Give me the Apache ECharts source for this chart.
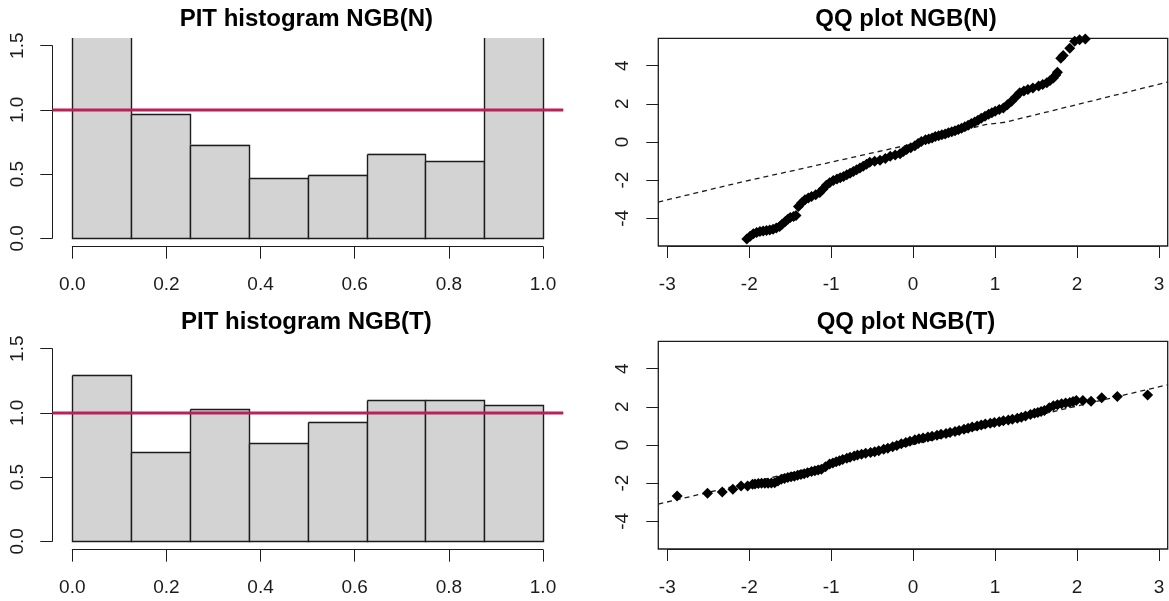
<!DOCTYPE html>
<html><head><meta charset="utf-8">
<script src="https://cdn.jsdelivr.net/npm/echarts@6/dist/echarts.min.js"></script>
<style>html,body{margin:0;padding:0;background:#fff}#c{width:1169px;height:601px}</style>
</head><body><div id="c"></div>
<script>
// ---------------- data ----------------
const titles = ['PIT histogram NGB(N)', 'QQ plot NGB(N)', 'PIT histogram NGB(T)', 'QQ plot NGB(T)'];
const pitBreaks = [0, 0.125, 0.25, 0.375, 0.5, 0.625, 0.75, 0.875, 1];
const pitDensityN = [2.02, 0.966, 0.73, 0.468, 0.496, 0.66, 0.60, 2.06];
const pitDensityT = [1.297, 0.693, 1.029, 0.766, 0.932, 1.099, 1.099, 1.060];
const uniformLevel = 1;

const qqN_x = [-2.03,-1.99,-1.95,-1.91,-1.87,-1.83,-1.79,-1.75,-1.71,-1.67,-1.63,-1.60,-1.56,-1.53,-1.50,-1.46,-1.43,
  -1.40,-1.36,-1.32,-1.28,-1.24,-1.19,-1.14,-1.10,-1.06,-1.02,-0.975,-0.93,-0.89,-0.85,-0.81,-0.77,-0.73,-0.69,-0.65,
  -0.61,-0.57,-0.53,-0.47,-0.405,-0.34,-0.28,-0.22,-0.16,-0.12,-0.08,-0.03,0.02,0.06,0.10,0.15,0.19,0.23,0.27,0.31,
  0.35,0.39,0.43,0.47,0.51,0.55,0.59,0.63,0.67,0.71,0.75,0.79,0.83,0.876,0.92,0.96,1.00,1.05,1.10,1.15,1.20,1.25,
  1.30,1.35,1.40,1.46,1.53,1.58,1.63,1.67,1.71,1.74,1.76,1.80,1.83,1.91,1.97,2.03,2.10];
const qqN_y = [-5.10,-4.95,-4.82,-4.76,-4.70,-4.67,-4.65,-4.62,-4.58,-4.52,-4.44,-4.32,-4.18,-4.06,-3.97,-3.92,-3.86,
  -3.40,-3.20,-3.04,-2.95,-2.87,-2.78,-2.66,-2.48,-2.29,-2.15,-2.03,-1.96,-1.89,-1.82,-1.74,-1.65,-1.56,-1.47,-1.38,
  -1.29,-1.18,-1.08,-1.03,-0.98,-0.88,-0.77,-0.70,-0.63,-0.52,-0.42,-0.32,-0.22,-0.10,0.01,0.09,0.14,0.19,0.26,0.31,
  0.36,0.40,0.46,0.52,0.57,0.63,0.70,0.77,0.86,0.94,1.03,1.12,1.22,1.33,1.43,1.51,1.59,1.68,1.76,1.93,2.11,2.33,
  2.55,2.65,2.72,2.80,2.90,2.98,3.07,3.20,3.33,3.48,3.63,4.36,4.50,4.88,5.25,5.33,5.36];

const qqT_x = [-2.88,-2.51,-2.33,-2.20,-2.10,-2.02,-1.96,-1.93,-1.89,-1.85,-1.81,-1.77,-1.73,-1.69,-1.65,-1.61,-1.57,
  -1.53,-1.49,-1.45,-1.41,-1.37,-1.33,-1.29,-1.24,-1.20,-1.16,-1.12,-1.07,-1.02,-0.98,-0.94,-0.90,-0.86,-0.81,-0.77,
  -0.72,-0.68,-0.63,-0.58,-0.52,-0.47,-0.42,-0.36,-0.31,-0.25,-0.20,-0.145,-0.09,-0.04,0.02,0.07,0.12,0.18,0.23,0.29,
  0.34,0.40,0.45,0.51,0.56,0.62,0.67,0.72,0.78,0.83,0.88,0.94,0.99,1.05,1.10,1.16,1.21,1.27,1.32,1.37,1.43,1.48,1.52,
  1.56,1.60,1.66,1.71,1.76,1.81,1.86,1.91,1.95,1.99,2.07,2.17,2.30,2.49,2.86];
const qqT_y = [-2.69,-2.55,-2.48,-2.34,-2.16,-2.16,-2.08,-2.06,-2.04,-2.02,-2.02,-2.02,-2.01,-1.99,-1.90,-1.81,-1.77,
  -1.72,-1.68,-1.65,-1.61,-1.57,-1.52,-1.47,-1.41,-1.37,-1.33,-1.29,-1.16,-1.01,-0.96,-0.90,-0.84,-0.78,-0.72,-0.66,
  -0.60,-0.55,-0.50,-0.46,-0.41,-0.37,-0.32,-0.25,-0.19,-0.12,-0.05,0.04,0.11,0.18,0.25,0.30,0.34,0.39,0.44,0.49,
  0.54,0.58,0.63,0.68,0.74,0.80,0.86,0.92,0.97,1.03,1.07,1.11,1.15,1.20,1.24,1.29,1.33,1.38,1.43,1.50,1.57,1.64,1.68,
  1.73,1.78,1.92,2.03,2.08,2.13,2.17,2.20,2.25,2.30,2.30,2.27,2.45,2.52,2.59];

const refLineN_x = [-3.11, -2.11, -1.32, 0.08, 0.88, 1.12, 2.28, 3.11];
const refLineN_y = [-3.16, -2.13, -1.38, -0.04, 0.89, 1.01, 2.23, 3.12];
const refLineT_x = [-3.11, 3.11];
const refLineT_y = [-3.11, 3.13];

const histXTickLabels = ['0.0','0.2','0.4','0.6','0.8','1.0'];
const histYTickLabels = ['0.0','0.5','1.0','1.5'];

// ---------------- layout ----------------
const FONT = '"Liberation Sans", Arial, sans-serif';
const INK = '#1c1c1c';
const rowOff = [0, 303];
const histX = {min: -0.0425, max: 1.043}, histY = {min: -0.06, max: 1.56};
const qqX = {min: -3.11, max: 3.105}, qqY = {min: -5.46, max: 5.40};

const zip = (a, b) => a.map((v, i) => [v, b[i]]);
const grids = [], xAxes = [], yAxes = [], series = [], titleArr = [];

function labelStyle(extra) {
  return Object.assign({fontSize: 19, color: INK, fontFamily: FONT}, extra || {});
}
const axLine = {show: true, onZero: false, lineStyle: {color: INK, width: 1}};
const axTick = {show: true, length: 12, lineStyle: {color: INK, width: 1}};

function addHist(row, dens, title) {
  const off = rowOff[row];
  const gP = grids.length;
  grids.push({left: 52.3, top: 38 + off, width: 511, height: 208, show: false});
  xAxes.push({gridIndex: gP, type: 'value', min: histX.min, max: histX.max, show: false});
  yAxes.push({gridIndex: gP, type: 'value', min: histY.min, max: histY.max, show: false});
  const gA = grids.length;
  grids.push({left: 72.3, top: 45.7 + off, width: 470.7, height: 192.6, show: false});
  xAxes.push({gridIndex: gA, type: 'value', min: 0, max: 1, interval: 0.2, offset: 8.4,
    axisLine: axLine, axisTick: axTick, splitLine: {show: false},
    axisLabel: labelStyle({margin: 29, formatter: v => histXTickLabels[Math.round(v / 0.2)]})});
  yAxes.push({gridIndex: gA, type: 'value', min: 0, max: 1.5, interval: 0.5, offset: 20,
    axisLine: axLine, axisTick: axTick, splitLine: {show: false},
    axisLabel: labelStyle({margin: 25.5, rotate: 90, formatter: v => histYTickLabels[Math.round(v / 0.5)]})});
  series.push({
    type: 'custom', xAxisIndex: gP, yAxisIndex: gP, clip: true, z: 2,
    data: dens.map((h, i) => [pitBreaks[i], pitBreaks[i + 1], h]),
    renderItem: function (params, api) {
      const p0 = api.coord([api.value(0), 0]);
      const p1 = api.coord([api.value(1), api.value(2)]);
      const cs = params.coordSys;
      const clipped = p1[1] < cs.y;
      const top = clipped ? cs.y : p1[1];
      const xl = Math.round(p0[0]) + 0.5, xr = Math.round(p1[0]) + 0.5;
      const yb = Math.round(p0[1]) + 0.5, yt = Math.round(top) + 0.5;
      const pts = clipped ? [[xl, top], [xl, yb], [xr, yb], [xr, top]]
                          : [[xl, yt], [xl, yb], [xr, yb], [xr, yt], [xl, yt]];
      return {type: 'group', children: [
        {type: 'rect', shape: {x: xl, y: top, width: xr - xl, height: yb - top}, style: {fill: '#d3d3d3'}},
        {type: 'polyline', shape: {points: pts}, style: {stroke: INK, lineWidth: 1.4, fill: null}}
      ]};
    }
  });
  series.push({type: 'line', xAxisIndex: gP, yAxisIndex: gP, z: 5, symbol: 'none', silent: true,
    data: [[histX.min, uniformLevel], [histX.max, uniformLevel]],
    lineStyle: {color: '#BA2159', width: 3}});
  titleArr.push({text: title, left: 301.3, top: 2 + off, textAlign: 'center',
    textStyle: {fontSize: 24, fontWeight: 'bold', color: '#000', fontFamily: FONT}});
}

function addQQ(row, xs, ys, lx, ly, title) {
  const off = rowOff[row];
  const gP = grids.length;
  grids.push({left: 658.3, top: 38.3 + off, width: 509.4, height: 207.7, show: true,
    borderColor: INK, borderWidth: 1.3, backgroundColor: 'transparent'});
  xAxes.push({gridIndex: gP, type: 'value', min: qqX.min, max: qqX.max, show: false});
  yAxes.push({gridIndex: gP, type: 'value', min: qqY.min, max: qqY.max, show: false});
  const gA = grids.length;
  grids.push({left: 667.3, top: 65.6 + off, width: 491.7, height: 152.7, show: false});
  xAxes.push({gridIndex: gA, type: 'value', min: -3, max: 3, interval: 1, offset: 27.7,
    axisLine: axLine, axisTick: axTick, splitLine: {show: false},
    axisLabel: labelStyle({margin: 29})});
  yAxes.push({gridIndex: gA, type: 'value', min: -4, max: 4, interval: 2, offset: 9,
    axisLine: {show: false, onZero: false}, axisTick: axTick, splitLine: {show: false},
    axisLabel: labelStyle({margin: 26, rotate: 90})});
  series.push({type: 'line', xAxisIndex: gP, yAxisIndex: gP, symbol: 'none', silent: true, z: 2,
    clip: true, data: zip(lx, ly), lineStyle: {color: INK, width: 1.3, type: [5, 4]}});
  series.push({type: 'scatter', xAxisIndex: gP, yAxisIndex: gP, clip: true, z: 3,
    symbol: 'diamond', symbolSize: [11, 11], data: zip(xs, ys),
    itemStyle: {color: '#000', opacity: 1}});
  titleArr.push({text: title, left: 901, top: 2 + off, textAlign: 'center',
    textStyle: {fontSize: 24, fontWeight: 'bold', color: '#000', fontFamily: FONT}});
}

addHist(0, pitDensityN, titles[0]);
addQQ(0, qqN_x, qqN_y, refLineN_x, refLineN_y, titles[1]);
addHist(1, pitDensityT, titles[2]);
addQQ(1, qqT_x, qqT_y, refLineT_x, refLineT_y, titles[3]);

const chart = echarts.init(document.getElementById('c'), null, {renderer: 'canvas'});
chart.setOption({
  animation: false,
  backgroundColor: '#fff',
  title: titleArr,
  grid: grids,
  xAxis: xAxes,
  yAxis: yAxes,
  series: series
});
</script></body></html>
